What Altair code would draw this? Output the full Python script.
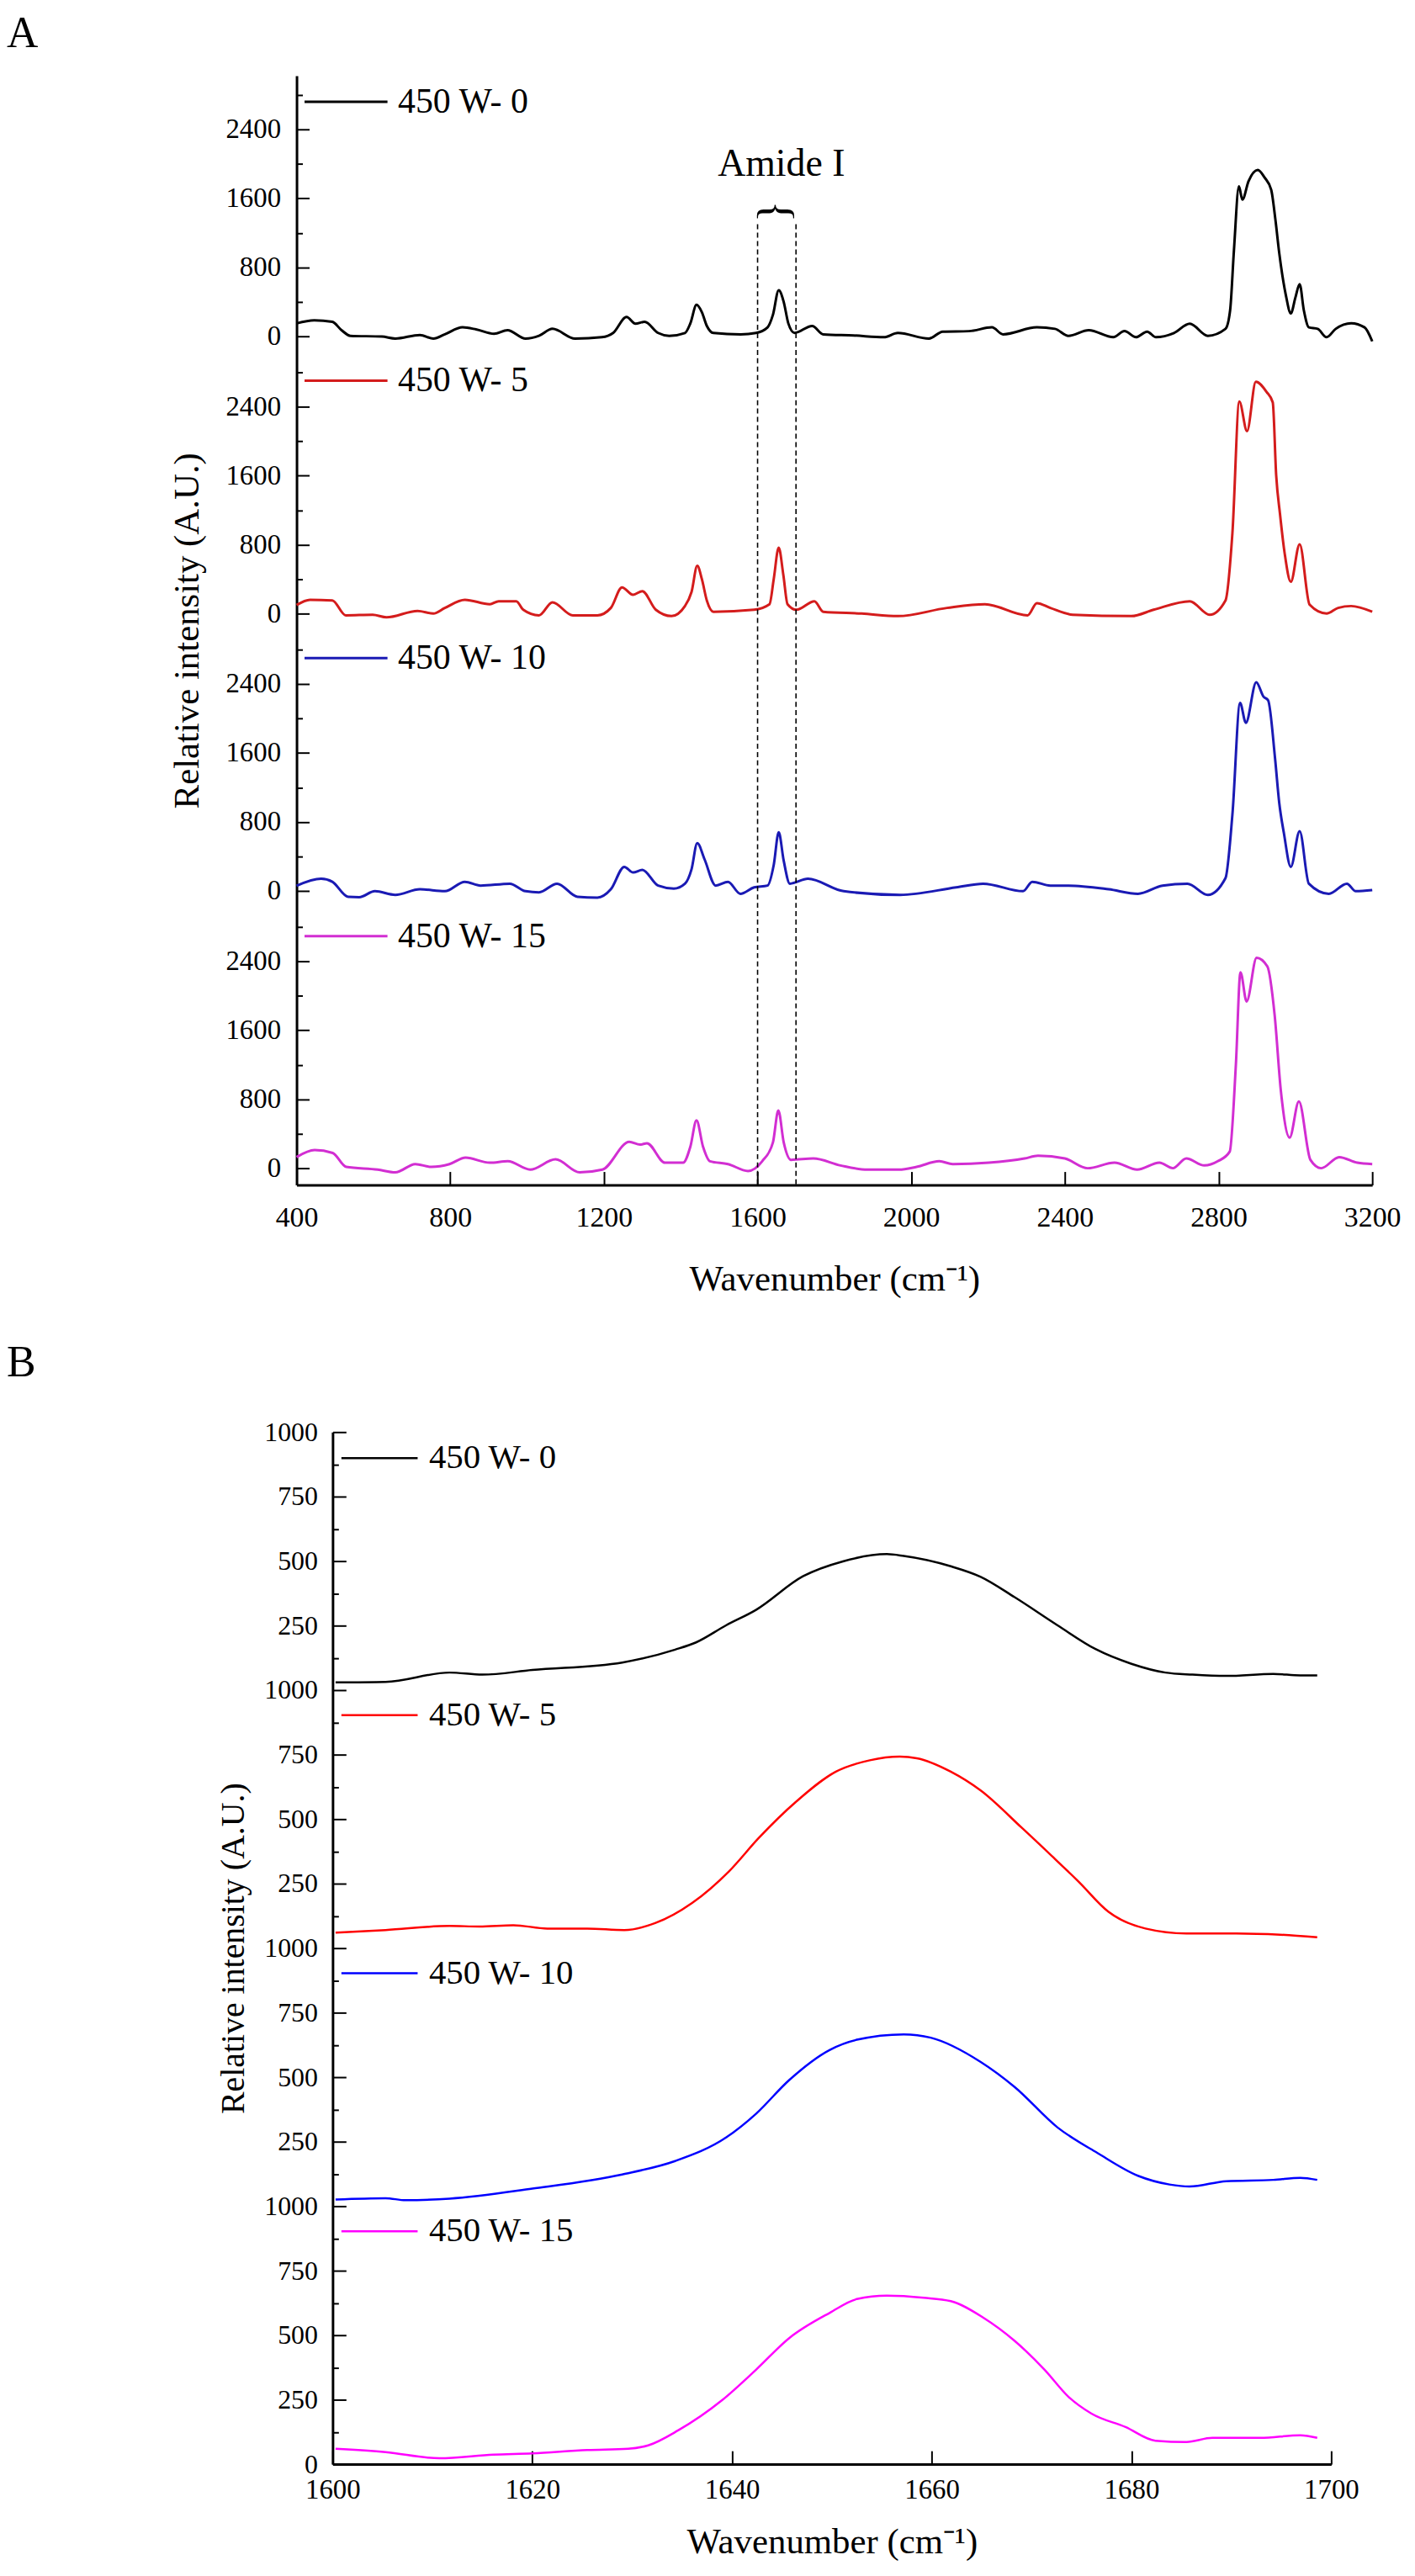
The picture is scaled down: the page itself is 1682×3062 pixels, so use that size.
import altair as alt
import pandas as pd

FONT = "Liberation Serif"

SERIES = ["450 W- 0", "450 W- 5", "450 W- 10", "450 W- 15"]
COLORS_A = ["#000000", "#d41c1c", "#1a1ab4", "#d22ed2"]
COLORS_B = ["#000000", "#ff0000", "#0000ff", "#ff00ff"]

# ---------------- Panel A: full Raman spectra ----------------
A0_WN = [400, 446, 493, 517, 540, 622, 657, 721, 756, 786, 832, 867, 914, 949, 996, 1031, 1066, 1125, 1195, 1224,
         1259, 1282, 1306, 1341, 1370, 1411, 1425, 1441, 1455, 1468, 1485, 1556, 1596, 1626, 1640, 1655, 1668, 1680,
         1696, 1742, 1771, 1850, 1929, 1965, 2046, 2082, 2150, 2210, 2239, 2327, 2374, 2409, 2462, 2526, 2555, 2585,
         2614, 2637, 2684, 2725, 2772, 2818, 2830, 2840, 2853, 2862, 2878, 2902, 2920, 2937, 2948, 2958, 2975, 2988,
         3000, 3011, 3022, 3035, 3058, 3081, 3105, 3145, 3180, 3200]
A0_VAL = [150, 185, 168, 71, 6, -3, -26, 16, -26, 23, 104, 81, 29, 71, -26, 6, 87, -26, -10, 39,
          224, 146, 168, 39, 6, 39, 150, 365, 280, 120, 39, 23, 39, 104, 250, 535, 400, 150,
          40, 120, 23, 10, -10, 39, -26, 55, 60, 104, 23, 104, 87, 6, 71, -10, 61, -10,
          55, -10, 39, 146, 6, 87, 300, 1000, 1740, 1585, 1800, 1930, 1840, 1700, 1350, 962, 480, 265,
          450, 605, 300, 104, 87, -10, 87, 152, 104, -58]

A1_WN = [400, 435, 493, 528, 598, 634, 715, 756, 786, 838, 903, 926, 972, 990, 1031, 1066, 1119, 1183, 1218, 1247,
         1276, 1300, 1335, 1376, 1411, 1428, 1443, 1455, 1468, 1485, 1591, 1631, 1642, 1655, 1667, 1678, 1701, 1748,
         1771, 1871, 1965, 2093, 2192, 2303, 2327, 2362, 2420, 2573, 2631, 2725, 2777, 2818, 2836, 2854, 2874, 2897,
         2925, 2941, 2950, 2960, 2972, 2988, 3011, 3037, 3081, 3111, 3145, 3200]
A1_VAL = [100, 161, 153, -20, -13, -43, 31, 1, 66, 161, 109, 144, 144, 45, -20, 131, -20, -20, 66, 304,
          218, 261, 45, -29, 88, 250, 555, 400, 150, 22, 45, 109, 400, 765, 450, 109, 45, 144,
          22, 1, -29, 66, 109, -20, 122, 66, -13, -29, 45, 144, -13, 153, 934, 2460, 2117, 2690,
          2571, 2450, 1600, 1150, 700, 369, 805, 103, 1, 66, 88, 22]

A2_WN = [400, 464, 493, 534, 563, 604, 657, 721, 786, 838, 879, 955, 996, 1031, 1078, 1131, 1183, 1218, 1253, 1276,
         1300, 1341, 1382, 1411, 1428, 1443, 1462, 1491, 1523, 1555, 1591, 1626, 1642, 1655, 1668, 1684, 1731, 1824,
         1971, 2117, 2187, 2291, 2315, 2362, 2409, 2514, 2590, 2654, 2719, 2772, 2818, 2836, 2856, 2871, 2898, 2917,
         2929, 2947, 2958, 2970, 2988, 3011, 3035, 3087, 3134, 3157, 3200]
A2_VAL = [60, 141, 106, -68, -72, -3, -46, 19, -3, 106, 62, 84, -3, -16, 84, -68, -77, 19, 279, 214,
          244, 62, 27, 84, 250, 555, 366, 62, 106, -33, 41, 62, 300, 680, 350, 84, 141, -3,
          -46, 41, 84, -3, 106, 62, 62, 19, -33, 62, 84, -46, 149, 886, 2180, 1950, 2420, 2253,
          2210, 1537, 1017, 670, 279, 692, 84, -33, 84, -3, 10]

A3_WN = [400, 447, 494, 529, 611, 657, 709, 751, 798, 840, 903, 950, 1008, 1074, 1137, 1196, 1266, 1294, 1312, 1359,
         1406, 1425, 1441, 1458, 1476, 1523, 1575, 1612, 1640, 1654, 1668, 1687, 1745, 1816, 1886, 1968, 2014, 2073,
         2108, 2202, 2295, 2330, 2400, 2459, 2529, 2588, 2646, 2681, 2716, 2763, 2798, 2829, 2845, 2857, 2873, 2899,
         2927, 2946, 2962, 2985, 3009, 3039, 3067, 3114, 3161, 3200]
A3_VAL = [129, 210, 177, 16, -16, -48, 48, 16, 48, 122, 64, 81, -16, 103, -48, -16, 306, 274, 290, 64,
          64, 250, 555, 250, 81, 48, -32, 81, 300, 670, 300, 97, 113, 32, -16, -16, 16, 81,
          48, 64, 113, 145, 113, 0, 64, -16, 64, 0, 113, 32, 81, 193, 1200, 2273, 1934, 2440,
          2340, 1773, 903, 355, 774, 97, 0, 129, 64, 48]

A_TICKS_X = [400, 800, 1200, 1600, 2000, 2400, 2800, 3200]

AMIDE_BAND = [1600, 1700]
AMIDE_TOP = 1300          # in units of the top spectrum
AMIDE_LABEL = "Amide I"
AMIDE_LABEL_POS = [1662, 2002]
AMIDE_BRACE_POS = [1650, 1448]

# ---------------- Panel B: Amide I region ----------------
B0_WN = [1600.3, 1605.3, 1611.7, 1615.0, 1620.0, 1629.0, 1634.3, 1636.4, 1639.4, 1642.4, 1647.1, 1651.1, 1655.5,
         1657.2, 1661.9, 1664.9, 1668.3, 1672.6, 1676.4, 1680.0, 1683.4, 1686.1, 1689.5, 1694.2, 1696.9, 1698.6]
B0_VAL = [30, 32, 68, 60, 78, 107, 157, 185, 251, 311, 441, 499, 527, 520, 480, 439, 360, 251, 159, 102, 68, 60,
          55, 63, 57, 57]

B1_WN = [1600.3, 1605.3, 1611.7, 1614.7, 1618.1, 1621.5, 1625.5, 1629.2, 1632.3, 1636.0, 1639.7, 1642.7, 1646.4,
         1650.4, 1653.8, 1656.8, 1658.5, 1661.9, 1664.9, 1669.0, 1672.0, 1674.7, 1677.7, 1681.4, 1685.5, 1690.5,
         1694.9, 1698.6]
B1_VAL = [60, 70, 86, 84, 89, 76, 76, 70, 97, 175, 298, 428, 567, 684, 728, 742, 736, 684, 611, 467, 358, 258, 141,
          76, 57, 57, 52, 42]

B2_WN = [1600.3, 1605.3, 1607.3, 1611.7, 1620.0, 1629.0, 1634.3, 1639.4, 1642.4, 1645.7, 1649.8, 1652.5, 1657.2,
         1659.9, 1664.9, 1668.3, 1672.6, 1676.6, 1680.7, 1683.8, 1685.8, 1689.5, 1694.2, 1696.9, 1698.6]
B2_VAL = [26, 31, 23, 29, 68, 123, 175, 266, 358, 488, 606, 645, 666, 653, 559, 462, 305, 206, 117, 84, 76, 97, 102,
          110, 102]

B3_WN = [1600.3, 1605.3, 1610.7, 1616.1, 1620.0, 1625.5, 1629.6, 1631.6, 1634.6, 1639.0, 1642.4, 1645.7, 1649.8,
         1652.5, 1655.5, 1659.2, 1661.9, 1665.2, 1668.3, 1671.3, 1673.7, 1676.0, 1679.4, 1682.4, 1685.5, 1688.1,
         1692.9, 1696.9, 1698.6]
B3_VAL = [60, 47, 23, 37, 42, 55, 60, 73, 131, 248, 366, 488, 587, 640, 653, 645, 632, 567, 478, 366, 261, 196, 144,
          91, 86, 102, 102, 112, 102]

B_TICKS_X = [1600, 1620, 1640, 1660, 1680, 1700]

# ---------------- layout constants (not data) ----------------
A_STEP = 3216      # vertical offset between stacked spectra in panel A
A_FLOOR = -194
A_MINOR = 400
A_MAJOR = 800
B_STEP = 1000
B_MINOR = 125
B_MAJOR = 250
N = len(SERIES)
A_SHIFT = 43       # panel A's plot starts this many px left of panel B's plot
LINE_SYMBOL = "M-1,0L1,0"
LEG_H = 60


def stack_frame(wns, vals, step):
    frames = []
    for i, (name, w, v) in enumerate(zip(SERIES, wns, vals)):
        off = (N - 1 - i) * step
        frames.append(pd.DataFrame({"series": name, "wn": w, "value": v,
                                    "stacked": [x + off for x in v]}))
    return pd.concat(frames, ignore_index=True)


dfA = stack_frame([A0_WN, A1_WN, A2_WN, A3_WN], [A0_VAL, A1_VAL, A2_VAL, A3_VAL], A_STEP)
dfB = stack_frame([B0_WN, B1_WN, B2_WN, B3_WN], [B0_VAL, B1_VAL, B2_VAL, B3_VAL], B_STEP)

common = dict(labelFont=FONT, titleFont=FONT, labelColor="black", titleColor="black",
              domainColor="black", tickColor="black", grid=False, titleFontWeight="normal",
              labelOverlap=False, labelFlush=False)

# ---- Panel A axes ----
a_yvals = [k * A_STEP + m * A_MINOR for k in range(N) for m in range(A_STEP // A_MINOR + 1)
           if m * A_MINOR < A_STEP - 200]
xaxis_A = alt.Axis(values=A_TICKS_X, format="d", tickSize=alt.ExprRef(expr="-16"), tickWidth=2, domainWidth=3,
                   labelPadding=38, labelFontSize=34, title="Wavenumber (cm\u207b\u00b9)", titleFontSize=43,
                   titlePadding=36, **common)
yaxis_A = alt.Axis(values=a_yvals, offset=A_SHIFT,
                   labelExpr=f"(datum.value % {A_STEP}) % {A_MAJOR} === 0 ? '' + (datum.value % {A_STEP}) : ''",
                   tickSize=alt.ExprRef(expr=f"(datum.value % {A_STEP}) % {A_MAJOR} === 0 ? -15 : -7"),
                   tickWidth=2, domainWidth=3, labelPadding=34, labelFontSize=33,
                   title="Relative intensity (A.U.)", titleFontSize=43, titlePadding=24, **common)
A_W = 1284
xA = dict(scale=alt.Scale(domain=[400, 3200], range=[-A_SHIFT, A_W - A_SHIFT], nice=False, zero=False),
          axis=xaxis_A)
yA = dict(scale=alt.Scale(domain=[A_FLOOR, N * A_STEP + A_FLOOR], nice=False, zero=False), axis=yaxis_A)

# ---- Panel B axes ----
b_yvals = [v for v in range(0, N * B_STEP + 1, B_MINOR)]
b_label = (f"datum.value % {B_MAJOR} !== 0 ? '' : (datum.value === 0 ? '0' : "
           f"(datum.value % {B_STEP} === 0 ? '{B_STEP}' : '' + (datum.value % {B_STEP})))")
xaxis_B = alt.Axis(values=B_TICKS_X, format="d", tickSize=alt.ExprRef(expr="-16"), tickWidth=2, domainWidth=3,
                   labelPadding=31, labelFontSize=33, title="Wavenumber (cm\u207b\u00b9)", titleFontSize=43,
                   titlePadding=24, **common)
yaxis_B = alt.Axis(values=b_yvals, labelExpr=b_label,
                   tickSize=alt.ExprRef(expr=f"datum.value % {B_MAJOR} === 0 ? -16 : -7"),
                   tickWidth=2, domainWidth=3, labelPadding=34, labelFontSize=32,
                   title="Relative intensity (A.U.)", titleFontSize=40, titlePadding=16, **common)
xB = dict(scale=alt.Scale(domain=[1600, 1700], nice=False, zero=False), axis=xaxis_B)
yB = dict(scale=alt.Scale(domain=[0, N * B_STEP], nice=False, zero=False), axis=yaxis_B)


def spectrum_layers(df, colors, xk, yk, stroke_w, interp, leg_x, leg_centers, sym_len, leg_font, lab_off):
    layers = []
    for i, name in enumerate(SERIES):
        legend = alt.Legend(orient="none", legendX=leg_x, legendY=leg_centers[i] - LEG_H / 2, title=None,
                            symbolType=LINE_SYMBOL, symbolSize=sym_len ** 2, symbolStrokeWidth=stroke_w,
                            clipHeight=LEG_H,
                            labelFont=FONT, labelFontSize=leg_font, labelColor="black", labelOffset=lab_off,
                            labelLimit=600, padding=0)
        layers.append(
            alt.Chart(df).transform_filter(alt.datum.series == name)
            .mark_line(strokeWidth=stroke_w, interpolate=interp, strokeJoin="round")
            .encode(x=alt.X("wn:Q", **xk), y=alt.Y("stacked:Q", **yk),
                    color=alt.Color("series:N", scale=alt.Scale(domain=[name], range=[colors[i]]),
                                    legend=legend))
        )
    return layers


layersA = spectrum_layers(dfA, COLORS_A, xA, yA, 3, "monotone", 8 - A_SHIFT, [31, 364, 695, 1027], 99, 42, 11)

top_off = (N - 1) * A_STEP
rule_df = pd.DataFrame({"wn": AMIDE_BAND, "top": [AMIDE_TOP + top_off] * 2, "bottom": [A_FLOOR] * 2})
rules = alt.Chart(rule_df).mark_rule(strokeDash=[6, 4], strokeWidth=1.6, color="black").encode(
    x=alt.X("wn:Q", **xA), y=alt.Y("top:Q", **yA), y2="bottom:Q")

lab_df = pd.DataFrame({"wn": [AMIDE_LABEL_POS[0]], "y": [AMIDE_LABEL_POS[1] + top_off], "t": [AMIDE_LABEL]})
amide_text = alt.Chart(lab_df).mark_text(font=FONT, fontSize=46, align="center", baseline="middle",
                                         color="black").encode(
    x=alt.X("wn:Q", **xA), y=alt.Y("y:Q", **yA), text="t:N")
brace_df = pd.DataFrame({"wn": [AMIDE_BRACE_POS[0]], "y": [AMIDE_BRACE_POS[1] + top_off], "t": ["{"]})
brace = alt.Chart(brace_df).mark_text(font=FONT, fontSize=54, align="center", baseline="middle", angle=90,
                                      color="black").encode(
    x=alt.X("wn:Q", **xA), y=alt.Y("y:Q", **yA), text="t:N")

chartA = alt.layer(*layersA, rules, amide_text, brace).resolve_scale(color="independent").properties(
    width=A_W - A_SHIFT, height=1324,
    title=alt.TitleParams("A", anchor="start", frame="group", dx=-389, dy=54, offset=36, fontSize=52, font=FONT,
                          fontWeight="normal", color="black", baseline="alphabetic"))

layersB = spectrum_layers(dfB, COLORS_B, xB, yB, 2.5, "monotone", 9, [31, 338, 646, 954], 91, 41, 12)
chartB = alt.layer(*layersB).resolve_scale(color="independent").properties(
    width=1192, height=1232,
    title=alt.TitleParams("B", anchor="start", frame="group", dx=-389, dy=50, offset=49, fontSize=52, font=FONT,
                          fontWeight="normal", color="black", baseline="alphabetic"))

chart = alt.vconcat(chartA, chartB, spacing=51).properties(
    padding=0, background="white").configure_view(stroke=None)

chart.save("out.html", embed_options={"renderer": "svg", "actions": False})
